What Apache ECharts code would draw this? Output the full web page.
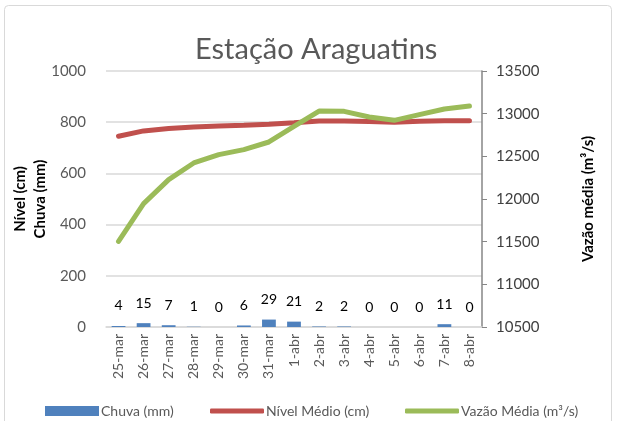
<!DOCTYPE html>
<html lang="pt">
<head>
<meta charset="UTF-8">
<title>Estação Araguatins</title>
<script src="https://cdn.jsdelivr.net/npm/echarts@6/dist/echarts.min.js"></script>
</head>
<body style="margin:0;background:#fff">
<div id="main" style="width:617px;height:421px;"></div>
<script type="text/javascript">
    // dados
    var dias = ['25-mar','26-mar','27-mar','28-mar','29-mar','30-mar','31-mar','1-abr','2-abr','3-abr','4-abr','5-abr','6-abr','7-abr','8-abr'];
    var chuva = [4, 15, 7, 1, 0, 6, 29, 21, 2, 2, 0, 0, 0, 11, 0];
    var nivel = [745, 766, 775, 781, 785, 788, 792, 798, 805, 805, 803, 800, 804, 806, 806];
    var vazao = [11504, 11946, 12227, 12422, 12520, 12579, 12668, 12850, 13031, 13027, 12961, 12922, 12989, 13055, 13090];

    var fonte = 'Lato, "Liberation Sans", sans-serif';
    var cinza = '#595959';

    // uma legenda por série, para poder posicionar cada item
    function legenda(nome, x, icone, alto) {
        return {
            left: x,
            top: 399,
            itemWidth: 54,
            itemHeight: alto,
            icon: icone,
            textStyle: { fontFamily: fonte, fontSize: 14, color: cinza, padding: [0, 0, 0, -3] },
            data: [nome]
        };
    }

    var myChart = echarts.init(document.getElementById('main'));
    var option = {
        backgroundColor: '#fff',
        textStyle: { fontFamily: fonte },
        title: {
            text: 'Estação Araguatins',
            left: 190,
            top: 30,
            textStyle: { fontFamily: fonte, fontSize: 29, fontWeight: 'normal', color: cinza }
        },
        graphic: [{
            type: 'rect',
            shape: { x: 4.5, y: 5.5, width: 607, height: 430, r: 4 },
            style: { fill: 'none', stroke: '#d9d9d9', lineWidth: 1 },
            silent: true
        }],
        legend: [
            legenda('Chuva (mm)', 40, 'rect', 10),
            legenda('Nível Médio (cm)', 205, 'roundRect', 5),
            legenda('Vazão Média (m³/s)', 400, 'roundRect', 5)
        ],
        grid: { left: 106, right: 135, top: 71, bottom: 94 },
        xAxis: {
            type: 'category',
            data: dias,
            axisLine: { lineStyle: { color: '#d9d9d9', width: 1.5 } },
            axisTick: { show: false },
            axisLabel: { rotate: 90, margin: 7, fontSize: 14, color: cinza, fontFamily: fonte }
        },
        yAxis: [{
            type: 'value',
            min: 0, max: 1000, interval: 200,
            name: 'Nível (cm)\nChuva (mm)',
            nameLocation: 'middle',
            nameRotate: 90,
            nameGap: 56,
            nameMoveOverlap: false,
            nameTextStyle: { fontFamily: fonte, fontSize: 15, fontWeight: 'bold', color: '#000', lineHeight: 20 },
            axisLine: { show: false },
            axisTick: { show: false },
            axisLabel: { fontSize: 15, color: cinza, margin: 20, fontFamily: fonte, formatter: function (v) { return String(v); } },
            splitLine: { lineStyle: { color: '#d9d9d9', width: 1.5 } }
        }, {
            type: 'value',
            min: 10500, max: 13500, interval: 500,
            name: 'Vazão média (m³/s)',
            nameLocation: 'middle',
            nameRotate: 90,
            nameGap: 99,
            nameMoveOverlap: false,
            nameTextStyle: { fontFamily: fonte, fontSize: 15, fontWeight: 'bold', color: '#000' },
            axisLine: { show: true, lineStyle: { color: '#868686', width: 1.5 } },
            axisTick: { show: true, length: 5, lineStyle: { color: '#868686' } },
            axisLabel: { fontSize: 15, color: '#404040', margin: 14, fontFamily: fonte, formatter: function (v) { return String(v); } },
            splitLine: { show: false }
        }],
        series: [{
            name: 'Chuva (mm)',
            type: 'bar',
            yAxisIndex: 0,
            barWidth: '55%',
            data: chuva,
            itemStyle: { color: '#4f81bd' },
            label: { show: true, position: 'top', distance: 13, fontSize: 14, color: '#000', fontFamily: fonte }
        }, {
            name: 'Nível Médio (cm)',
            type: 'line',
            yAxisIndex: 0,
            data: nivel,
            symbol: 'none',
            lineStyle: { color: '#c0504d', width: 5, cap: 'round' },
            itemStyle: { color: '#c0504d' }
        }, {
            name: 'Vazão Média (m³/s)',
            type: 'line',
            yAxisIndex: 1,
            data: vazao,
            symbol: 'none',
            lineStyle: { color: '#9bbb59', width: 5, cap: 'round' },
            itemStyle: { color: '#9bbb59' }
        }]
    };
    myChart.setOption(option);
</script>
</body>
</html>
